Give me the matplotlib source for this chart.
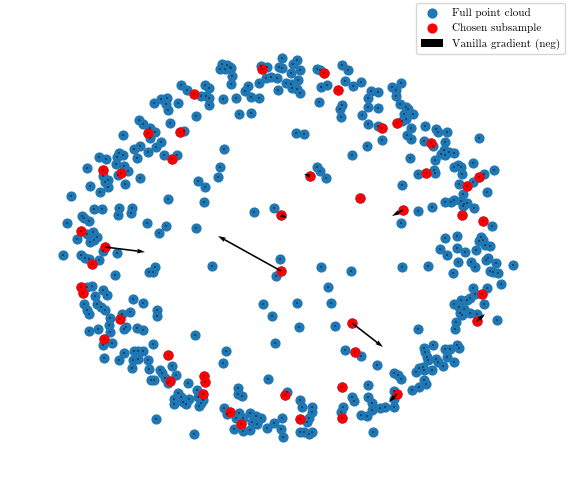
import numpy as np
import matplotlib
matplotlib.use("Agg")
import matplotlib.pyplot as plt

plt.rcParams['font.family'] = ['cmr10', 'DejaVu Serif']

# ---------------------------------------------------------
# POINT CLOUD (image coords: x right, y down)
# ---------------------------------------------------------

cloud_x = [
    181, 187, 205, 209, 201, 206, 209, 209, 154, 161, 167, 166, 168, 178, 196, 139,
    143, 150, 155, 150, 170, 184, 123, 161, 156, 148, 140, 134, 137, 164, 177, 119,
    123, 117, 99, 106, 116, 124, 128, 118, 87, 103, 108, 105, 108, 90, 100, 125,
    140, 198, 205, 204, 168, 71, 94, 102, 119, 118, 132, 131, 82, 84, 89, 67,
    147, 166, 159, 196, 87, 93, 97, 77, 90, 94, 117, 63, 81, 103,
    222, 227, 230, 220, 225, 231, 232, 231, 223, 236, 239, 251, 245, 248, 251, 259,
    259, 261, 267, 266, 271, 277, 278, 282, 279, 282, 291, 293, 297, 300, 298, 286,
    291, 292, 297, 300, 317, 320, 327, 321, 319, 342, 348, 345, 353, 361, 342, 340,
    341, 362, 368, 368, 368, 367, 352, 296, 304, 224, 220, 218, 317, 320, 326, 254,
    274,
    401, 392, 396, 396, 371, 378, 378, 400, 406, 408, 404, 413, 406, 402, 382, 378,
    411, 407, 411, 425, 436, 438, 447, 479, 424, 433, 445, 444, 441, 445, 449, 454,
    435, 410, 454, 458, 461, 462, 473, 434, 435, 418, 402, 459, 473, 484, 494, 487,
    463, 445, 451, 454, 461, 464, 467, 463, 474, 432, 418, 401, 492, 445, 457, 481,
    483, 479, 485, 490, 440, 457, 465, 476,
    85, 89, 99, 115, 149, 153, 155, 212, 87, 92, 95, 103, 107, 133, 143, 84,
    87, 89, 97, 101, 105, 110, 122, 130, 157, 157, 109, 110, 89, 98, 126, 124,
    137, 143, 103, 112, 104, 153, 195, 124, 119, 134, 138, 143, 133, 138, 132, 148,
    172, 149, 160, 162, 165, 176, 151, 154, 168, 188, 178, 181, 174, 183, 186, 174,
    189, 197, 198, 203, 201, 199, 156, 194,
    280, 276, 321, 351, 328, 263, 297, 331, 272, 299, 335, 275, 226, 223, 345, 361,
    268, 238, 238, 242, 287, 300, 302, 312, 312, 352, 354, 343, 341, 368, 368, 361,
    367, 224, 227, 239, 236, 243, 250, 252, 256, 261, 257, 234, 243, 250, 267, 274,
    282, 281, 283, 307, 309, 300, 304, 309, 312,
    447, 458, 471, 475, 453, 486, 488, 496, 490, 493, 498, 513, 501, 473, 487, 470,
    467, 475, 461, 454, 484, 459, 464, 460, 462, 470, 477, 497, 456, 455, 418, 433,
    424, 425, 427, 457, 459, 445, 450, 447, 454, 436, 438, 428, 443, 432, 423, 419,
    416, 424, 377, 394, 398, 401, 424, 426, 419, 412, 394, 394, 394, 385, 380, 372,
    372, 373, 402, 428,
]
cloud_y = [
    85, 90, 85, 88, 96, 96, 98, 105, 103, 99, 98, 104, 110, 103, 116, 120,
    124, 128, 132, 138, 123, 131, 135, 142, 147, 152, 146, 149, 158, 155, 155, 153,
    155, 157, 157, 159, 164, 166, 171, 175, 168, 176, 180, 182, 187, 186, 192, 184,
    178, 181, 187, 202, 199, 196, 209, 209, 208, 215, 208, 213, 216, 218, 221, 223,
    223, 226, 233, 228, 234, 232, 237, 239, 242, 240, 253, 255, 255, 251,
    64, 65, 67, 69, 69, 68, 76, 84, 99, 98, 114, 113, 91, 86, 97, 98,
    83, 66, 67, 78, 77, 78, 90, 58, 67, 68, 73, 64, 60, 70, 80, 83,
    84, 88, 89, 93, 69, 70, 85, 87, 102, 65, 70, 81, 86, 82, 105, 109,
    117, 115, 98, 107, 124, 146, 155, 133, 134, 149, 167, 177, 167, 171, 178, 212,
    208,
    83, 87, 90, 96, 91, 92, 108, 104, 107, 109, 114, 114, 119, 121, 140, 126,
    128, 135, 139, 126, 129, 132, 132, 138, 141, 146, 142, 150, 154, 155, 152, 153,
    160, 158, 167, 165, 167, 174, 163, 170, 173, 174, 185, 184, 182, 174, 170, 192,
    194, 202, 202, 200, 201, 204, 203, 206, 208, 207, 211, 223, 226, 238, 236, 237,
    240, 241, 245, 246, 249, 248, 252, 250,
    258, 259, 260, 275, 272, 272, 267, 266, 287, 286, 296, 290, 295, 299, 303, 304,
    310, 314, 304, 307, 310, 318, 314, 312, 310, 316, 325, 332, 331, 329, 327, 329,
    328, 330, 345, 343, 358, 344, 335, 353, 360, 351, 351, 351, 360, 359, 368, 360,
    366, 369, 370, 373, 378, 375, 380, 380, 383, 383, 393, 397, 399, 402, 404, 404,
    399, 390, 397, 400, 403, 406, 419, 434,
    259, 276, 267, 271, 287, 304, 303, 303, 316, 327, 326, 343, 351, 363, 350, 356,
    379, 388, 394, 396, 392, 400, 407, 407, 412, 397, 401, 407, 412, 385, 397, 415,
    416, 408, 414, 413, 418, 418, 413, 422, 416, 418, 424, 429, 431, 430, 428, 423,
    418, 429, 437, 422, 418, 432, 432, 434, 432,
    255, 262, 262, 267, 273, 260, 258, 263, 271, 272, 273, 265, 284, 288, 288, 298,
    300, 294, 300, 304, 304, 307, 309, 313, 315, 313, 314, 320, 322, 329, 329, 345,
    348, 352, 357, 345, 348, 349, 349, 357, 362, 359, 362, 360, 366, 370, 367, 368,
    372, 370, 365, 373, 375, 379, 380, 384, 387, 390, 391, 399, 407, 407, 408, 403,
    410, 432, 267, 266,
]

# chosen subsample
sub_x = [
    194, 148, 180, 172, 103, 121, 81, 105, 92, 81, 83, 120, 104, 168, 170, 204,
    205, 203, 262, 324, 338, 310, 360, 281, 397, 382, 431, 426, 467, 479, 403, 462,
    483, 281, 352, 355, 285, 342, 342, 230, 241, 300, 482, 477, 397,
]
sub_y = [
    94, 133, 132, 159, 170, 173, 231, 247, 264, 287, 293, 319, 339, 355, 381, 376,
    382, 394, 69, 73, 90, 176, 198, 215, 123, 128, 143, 173, 186, 177, 210, 215,
    221, 271, 323, 352, 395, 387, 418, 412, 424, 419, 294, 321, 394,
]

# negative vanilla gradient, only non-zero at these subsample indices
grad_idx = [33, 7, 34, 21, 23, 30, 43, 44]
grad_u = [-63, 40, 31, -6, 6, -11, 8, -8]
grad_v = [-35, 5, 24, -2, 3, 6, -7, 8]

# ---------------------------------------------------------
# PLOT
# ---------------------------------------------------------

all_x = np.array(cloud_x + sub_x, dtype=float)
all_y = np.array(cloud_y + sub_y, dtype=float)
u = np.zeros(len(all_x))
v = np.zeros(len(all_x))
for k, i in enumerate(grad_idx):
    u[len(cloud_x) + i] = grad_u[k]
    v[len(cloud_x) + i] = grad_v[k]

fig = plt.figure(figsize=(5.68, 4.97), dpi=100)
ax = fig.add_axes([0, 0, 1, 1])

ax.scatter(all_x, all_y, s=40, color='#1f77b4', label='Full point cloud')
ax.scatter(sub_x, sub_y, s=40, color='red', label='Chosen subsample')
ax.quiver(all_x, all_y, u, v, angles='xy', scale_units='xy', scale=1,
          color='black', label='Vanilla gradient (neg)')

ax.set_xlim(0, 568)
ax.set_ylim(497, 0)
ax.axis('off')
ax.legend(loc='upper right', fontsize=8, bbox_to_anchor=(1.004, 1.005))

fig.savefig('out.png', dpi=100)
